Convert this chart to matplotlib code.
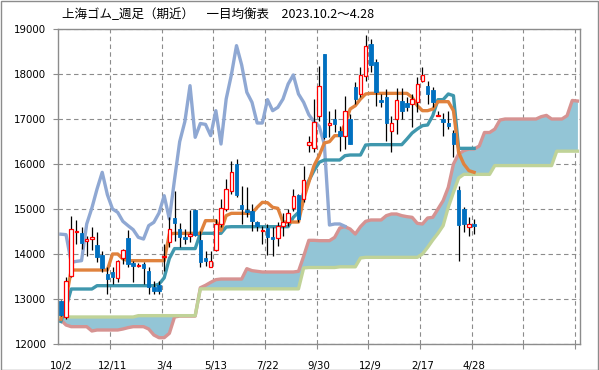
import matplotlib
matplotlib.use("Agg")
import matplotlib.pyplot as plt
import numpy as np
from matplotlib.patches import Rectangle

# ---------------- data ----------------
x_labels = ["10/2", "12/11", "3/4", "5/13", "7/22", "9/30", "12/9", "2/17", "4/28"]

opens = [12950, 12590, 13518, 14480, 14459, 14296, 14330, 14207, 13985, 13555,
         13607, 13466, 13911, 14348, 13792, 13740, 13777, 13630, 13274, 13318,
         13926, 14259, 14800, 14556, 14385, 14390, 14978, 14311, 13904, 13704,
         14089, 14667, 15000, 15393, 16000, 15096, 14980, 14963, 14700, 14510,
         14578, 14370, 14348, 14630, 14704, 15015, 15311, 15222, 16422, 16348,
         17074, 18444, 16860, 17000, 16741, 16630, 17000, 17704, 17556, 17963,
         18667, 18259, 17430, 17481, 16741, 17000, 17407, 17356, 17333, 17385,
         17852, 17741, 17652, 17070, 17000, 16911, 16689, 15430, 15000, 14593,
         14667]
highs = [12980, 13480, 14852, 14756, 14600, 14400, 14600, 14480, 14059, 13700,
         13718, 13874, 14110, 14533, 13850, 13800, 13815, 13700, 13407, 13400,
         14222, 14815, 15407, 14681, 14556, 14980, 15000, 14519, 14074, 14074,
         14778, 15222, 15667, 16074, 16111, 15519, 15481, 15111, 14741, 14630,
         14667, 14600, 14700, 14900, 14990, 15444, 15333, 15963, 16630, 17444,
         18185, 18444, 17185, 17222, 16852, 17519, 17111, 17830, 18148, 18867,
         18778, 18333, 17556, 17667, 17074, 17681, 17681, 17481, 17556, 17926,
         18148, 17852, 17704, 17185, 17133, 17185, 16763, 15519, 15037, 14815,
         14778]
lows = [12620, 12560, 13480, 14222, 14100, 13960, 14090, 13815, 13592, 13110,
        13333, 13370, 13777, 13718, 13370, 13700, 13333, 13110, 13110, 13110,
        13630, 14150, 14296, 14150, 14222, 14260, 14407, 13704, 13741, 13700,
        14074, 14593, 14963, 15330, 15259, 14667, 14815, 14519, 14519, 14222,
        13985, 13963, 14185, 14410, 14630, 14963, 14704, 15148, 16274, 16259,
        16963, 16556, 16593, 16704, 16296, 16333, 16444, 17333, 17481, 17852,
        18037, 17296, 17259, 16519, 16259, 16667, 17000, 17185, 16815, 17148,
        17815, 17333, 17259, 17070, 16630, 16778, 16148, 13852, 14481, 14407,
        14444]
closes = [12650, 13407, 14555, 14520, 14237, 14340, 14370, 13925, 13688, 13437,
          13496, 13851, 14089, 13777, 13725, 13763, 13688, 13259, 13185, 13185,
          13963, 14556, 14681, 14370, 14333, 14440, 14430, 13815, 13837, 13852,
          14667, 15022, 15444, 15815, 15319, 15000, 14926, 14726, 14630, 14540,
          14370, 14333, 14630, 14704, 14911, 15296, 14778, 15652, 16496, 16941,
          17741, 16593, 16900, 16880, 16630, 17185, 16444, 17444, 17978, 18630,
          18200, 17593, 17370, 16911, 16911, 17430, 17185, 17259, 17444, 17778,
          17978, 17556, 17370, 17096, 16941, 16837, 16444, 14644, 14667, 14667,
          14615]

tenkan = [12550, 13000, 13644, 13644, 13644, 13644, 13644, 13644, 13644, 13644,
          14000, 14000, 13890, 13852, 13852, 13852, 13852, 13852, 13852, 13852,
          13852, 14444, 14459, 14459, 14459, 14459, 14459, 14459, 14741, 14741,
          14741, 14519, 14852, 14904, 14904, 14904, 14904, 14904, 15037, 15148,
          15140, 15037, 15015, 14710, 14710, 14710, 14710, 15222, 15593, 15963,
          16185, 16467, 16496, 16630, 16630, 16889, 17222, 17296, 17444, 17556,
          17570, 17570, 17570, 17570, 17570, 17570, 17570, 17570, 17481, 17296,
          17185, 17185, 17222, 17385, 17385, 17385, 17185, 16259, 16000, 15852,
          15815]
kijun = [12500, 12820, 13222, 13222, 13222, 13222, 13222, 13296, 13296, 13296,
         13296, 13296, 13296, 13296, 13296, 13296, 13296, 13296, 13296, 13330,
         13470, 13900, 14120, 14120, 14120, 14120, 14120, 14460, 14460, 14460,
         14460, 14460, 14600, 14607, 14607, 14607, 14607, 14607, 14607, 14607,
         14607, 14607, 14607, 14607, 14607, 14815, 14926, 15370, 15630, 15852,
         16037, 16089, 16089, 16089, 16089, 16185, 16200, 16200, 16200, 16422,
         16430, 16430, 16430, 16430, 16430, 16430, 16430, 16556, 16689, 16778,
         16852, 16867, 17074, 17430, 17430, 17556, 17519, 16348, 16348, 16348,
         16348]
chikou = [14440, 14430, 13815, 13837, 13852, 14667, 15022, 15444, 15815, 15319,
          15000, 14926, 14726, 14630, 14540, 14370, 14333, 14630, 14704, 14911,
          15296, 14778, 15652, 16496, 16941, 17741, 16593, 16900, 16880, 16630,
          17185, 16444, 17444, 17978, 18630, 18200, 17593, 17370, 16911, 16911,
          17430, 17185, 17259, 17444, 17778, 17978, 17556, 17370, 17096, 16941,
          16837, 16444, 14644, 14667, 14667, 14615]
span_a = [12533, 12422, 12385, 12385, 12385, 12385, 12289, 12311, 12311, 12311,
          12311, 12311, 12333, 12363, 12385, 12385, 12385, 12333, 12200, 12140,
          12140, 12237, 12600, 12620, 12620, 12620, 12620, 13250, 13304, 13370,
          13430, 13444, 13444, 13444, 13444, 13444, 13674, 13630, 13615, 13600,
          13600, 13600, 13600, 13600, 13600, 13600, 13615, 13950, 14304, 14304,
          14296, 14296, 14296, 14370, 14578, 14607, 14555, 14444, 14607, 14726,
          14756, 14756, 14756, 14852, 14889, 14889, 14852, 14830, 14815, 14681,
          14667, 14800, 14815, 15000, 15185, 15481, 16000, 16222, 16296, 16333,
          16333, 16400, 16700, 16700, 16775, 16977, 17000, 17000, 17000, 17000,
          17000, 17000, 17000, 17052, 17080, 17000, 17000, 17000, 17075, 17412,
          17400]
span_b = [12600, 12600, 12600, 12600, 12600, 12600, 12600, 12600, 12600, 12600,
          12600, 12600, 12600, 12600, 12600, 12630, 12630, 12630, 12630, 12630,
          12630, 12630, 12630, 12630, 12630, 12630, 12630, 13225, 13225, 13225,
          13225, 13225, 13225, 13225, 13225, 13225, 13225, 13225, 13225, 13225,
          13225, 13225, 13225, 13225, 13225, 13225, 13225, 13690, 13700, 13700,
          13700, 13700, 13700, 13700, 13715, 13715, 13715, 13715, 13911, 13926,
          13926, 13926, 13926, 13926, 13926, 13926, 13926, 13926, 13926, 13926,
          14000, 14148, 14311, 14459, 14630, 15037, 15370, 15689, 15770, 15770,
          15770, 15770, 15770, 15770, 15965, 15965, 15965, 15965, 15965, 15965,
          15965, 15965, 15965, 15965, 15965, 15965, 16285, 16285, 16285, 16285,
          16285]

title = "上海ゴム_週足（期近）　一目均衡表　2023.10.2～4.28"

# ---------------- styling ----------------
C_CHIKOU = "#8FA8D3"
C_TENKAN = "#E0823D"
C_KIJUN = "#3F97AD"
C_SPANA = "#D69392"
C_SPANB = "#C0D398"
C_CLOUD = "#93C5D6"
C_BLUE = "#0070C0"
C_RED = "#FF0000"
C_GRID = "#8C8C8C"
C_FRAME = "#8C8C8C"

W, H = 599, 370
fig = plt.figure(figsize=(W / 100, H / 100), dpi=100)
ax = fig.add_axes([58.3 / W, 1 - 344 / H, (580 - 58.3) / W, (344 - 29) / H])

n_total = len(span_a)
xs_all = np.arange(n_total)
xs = np.arange(len(closes))
xs_ch = np.arange(len(chikou))

o = np.array(opens); h = np.array(highs); l = np.array(lows); c = np.array(closes)

# cloud
ax.fill_between(xs_all, span_a, span_b, color=C_CLOUD, lw=0, zorder=1)
lw = 2.4
ax.plot(xs_all, span_a, color=C_SPANA, lw=lw, zorder=2, solid_joinstyle="round")
ax.plot(xs_all, span_b, color=C_SPANB, lw=lw, zorder=2.1, solid_joinstyle="round")
ax.plot(xs_ch, chikou, color=C_CHIKOU, lw=lw, zorder=3, solid_joinstyle="round")
ax.plot(xs, kijun, color=C_KIJUN, lw=lw, zorder=3.1, solid_joinstyle="round")
ax.plot(xs, tenkan, color=C_TENKAN, lw=lw, zorder=3.2, solid_joinstyle="round")

# candles
ax.vlines(xs, l, h, color="black", lw=0.9, zorder=4)
up = c >= o
bottoms = np.minimum(o, c)
heights = np.maximum(np.abs(c - o), 25)
bw = 0.68
ax.bar(xs[up], heights[up], bottom=bottoms[up], width=bw, facecolor="white",
       edgecolor=C_RED, lw=0.9, zorder=5)
ax.bar(xs[~up], heights[~up], bottom=bottoms[~up], width=bw, facecolor=C_BLUE,
       edgecolor=C_BLUE, lw=0.6, zorder=5)

# axes
ax.set_xlim(-0.5, n_total - 0.5)
ax.set_ylim(12000, 19000)
ax.set_yticks(np.arange(12000, 19001, 1000))
ax.set_yticklabels([f"{v}" for v in range(12000, 19001, 1000)])
ax.set_xticks(np.arange(0, len(x_labels) * 10, 10))
ax.set_xticklabels(x_labels)
ax.set_xticks(np.arange(9.5, n_total, 10), minor=True)

ax.tick_params(axis="x", which="major", length=0, pad=12, labelsize=7.4)
ax.tick_params(axis="x", which="minor", length=3.5, width=0.8, color=C_FRAME,
               direction="out")
ax.tick_params(axis="y", which="major", length=3.5, width=0.8, color=C_FRAME,
               direction="out", pad=5, labelsize=7.4)

ax.grid(False)
ax.grid(True, axis="x", which="minor", color=C_GRID, lw=0.8, ls=(0, (4, 3)), zorder=0.5)
ax.grid(True, axis="y", which="major", color=C_GRID, lw=0.8, ls=(0, (4, 3)), zorder=0.5)
ax.set_axisbelow(True)
for s in ax.spines.values():
    s.set_color(C_FRAME)
    s.set_linewidth(1.0)
    s.set_zorder(6)

fig.text(62 / W, 1 - 15 / H, title, ha="left", va="center", fontsize=9.0,
         family=["Noto Sans CJK JP", "DejaVu Sans"])

fig.patches.append(Rectangle((0.5 / W, 0.5 / H), 1 - 1.5 / W, 1 - 1.5 / H,
                             transform=fig.transFigure, fill=False,
                             edgecolor=C_FRAME, lw=1.0))

fig.savefig("out.png", dpi=100)
